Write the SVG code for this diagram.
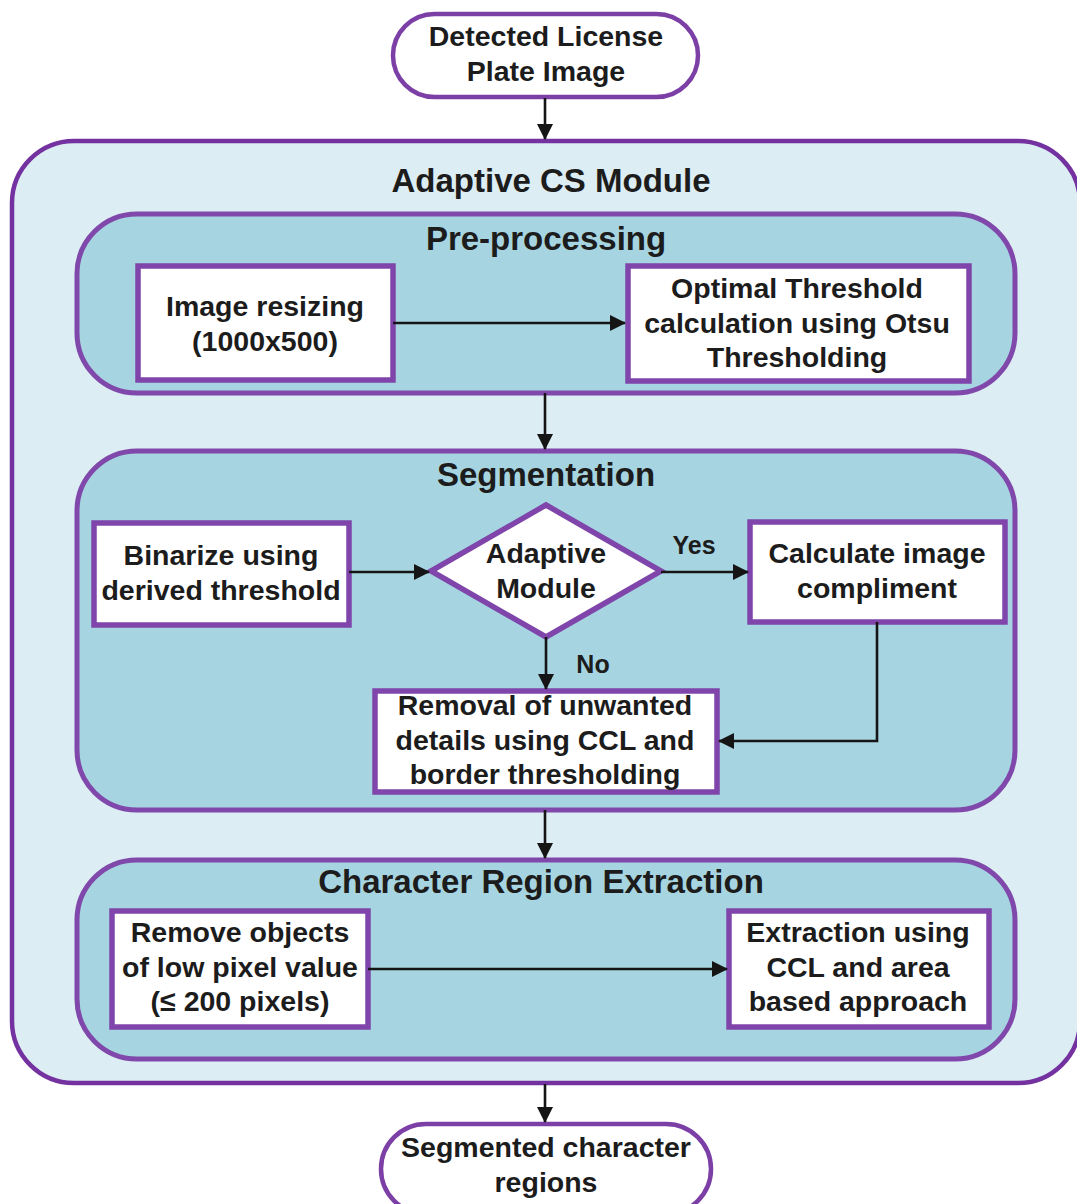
<svg xmlns="http://www.w3.org/2000/svg" width="1077" height="1204" viewBox="0 0 1077 1204">
  <defs>
    <style>
      .term { fill: #ffffff; stroke: #7b3fa6; stroke-width: 4.5; }
      .outer { fill: #dcedf3; stroke: #7432a0; stroke-width: 4.5; }
      .panel { fill: #a6d5e1; stroke: #8048ab; stroke-width: 5; }
      .box { fill: #ffffff; stroke: #7f45aa; stroke-width: 5.5; }
      .t { font-family: "Liberation Sans", Arial, sans-serif; font-weight: bold; fill: #1c1c1c; text-anchor: middle; }
      .tb { font-size: 28.5px; }
      .th { font-size: 33px; }
      .tl { font-size: 25px; }
      .conn { fill: none; stroke: #151515; stroke-width: 2.6; }
    </style>
    <marker id="arrow" viewBox="0 0 16 16" refX="15" refY="8" markerWidth="16" markerHeight="16" markerUnits="userSpaceOnUse" orient="auto">
      <path d="M0,0 L16,8 L0,16 Z" fill="#151515"/>
    </marker>
  </defs>

  <rect width="1077" height="1204" fill="#ffffff"/>

  <!-- outer module container -->
  <g id="adaptive-cs-module">
    <rect class="outer" x="12" y="141" width="1068" height="942" rx="62" ry="62"/>
    <text class="t th" x="551" y="192">Adaptive CS Module</text>
  </g>

  <!-- stage panels -->
  <g id="pre-processing">
    <rect class="panel" x="77" y="214" width="938" height="179" rx="60" ry="60"/>
    <text class="t th" x="546" y="250">Pre-processing</text>
  </g>
  <g id="segmentation">
    <rect class="panel" x="77" y="451" width="938" height="359" rx="60" ry="60"/>
    <text class="t th" x="546" y="486">Segmentation</text>
  </g>
  <g id="character-region-extraction">
    <rect class="panel" x="77" y="860" width="938" height="199" rx="60" ry="60"/>
    <text class="t th" x="541" y="893">Character Region Extraction</text>
  </g>

  <!-- terminators -->
  <g id="input-image">
    <rect class="term" x="393" y="14" width="305" height="83" rx="41.5" ry="41.5"/>
    <text class="t tb" x="546" y="46">Detected License</text>
    <text class="t tb" x="546" y="81">Plate Image</text>
  </g>
  <g id="output-regions">
    <rect class="term" x="381" y="1124" width="330" height="90" rx="45" ry="45"/>
    <text class="t tb" x="546" y="1157">Segmented character</text>
    <text class="t tb" x="546" y="1192">regions</text>
  </g>

  <!-- process steps -->
  <g id="image-resizing">
    <rect class="box" x="138" y="266" width="255" height="114"/>
    <text class="t tb" x="265" y="316">Image resizing</text>
    <text class="t tb" x="265" y="351">(1000x500)</text>
  </g>
  <g id="otsu-threshold">
    <rect class="box" x="628" y="266" width="341" height="115"/>
    <text class="t tb" x="797" y="298">Optimal Threshold</text>
    <text class="t tb" x="797" y="333">calculation using Otsu</text>
    <text class="t tb" x="797" y="367">Thresholding</text>
  </g>
  <g id="binarize">
    <rect class="box" x="94" y="523" width="255" height="102"/>
    <text class="t tb" x="221" y="565">Binarize using</text>
    <text class="t tb" x="221" y="600">derived threshold</text>
  </g>
  <g id="adaptive-module">
    <polygon class="box" points="546,505 661,571 546,637 431,571"/>
    <text class="t tb" x="546" y="563">Adaptive</text>
    <text class="t tb" x="546" y="598">Module</text>
  </g>
  <g id="image-complement">
    <rect class="box" x="750" y="522" width="255" height="100"/>
    <text class="t tb" x="877" y="563">Calculate image</text>
    <text class="t tb" x="877" y="598">compliment</text>
  </g>
  <g id="ccl-removal">
    <rect class="box" x="375" y="691" width="342" height="101"/>
    <text class="t tb" x="545" y="715">Removal of unwanted</text>
    <text class="t tb" x="545" y="750">details using CCL and</text>
    <text class="t tb" x="545" y="784">border thresholding</text>
  </g>
  <g id="remove-small-objects">
    <rect class="box" x="112" y="911" width="256" height="116"/>
    <text class="t tb" x="240" y="942">Remove objects</text>
    <text class="t tb" x="240" y="977">of low pixel value</text>
    <text class="t tb" x="240" y="1011">(≤ 200 pixels)</text>
  </g>
  <g id="ccl-area-extraction">
    <rect class="box" x="729" y="911" width="260" height="116"/>
    <text class="t tb" x="858" y="942">Extraction using</text>
    <text class="t tb" x="858" y="977">CCL and area</text>
    <text class="t tb" x="858" y="1011">based approach</text>
  </g>

  <!-- connectors -->
  <g id="connectors">
    <line class="conn" x1="545" y1="98" x2="545" y2="139" marker-end="url(#arrow)"/>
    <line class="conn" x1="393" y1="323" x2="625" y2="323" marker-end="url(#arrow)"/>
    <line class="conn" x1="545" y1="393" x2="545" y2="449" marker-end="url(#arrow)"/>
    <line class="conn" x1="349" y1="572" x2="429" y2="572" marker-end="url(#arrow)"/>
    <line class="conn" x1="661" y1="572" x2="748" y2="572" marker-end="url(#arrow)"/>
    <line class="conn" x1="546" y1="637" x2="546" y2="689" marker-end="url(#arrow)"/>
    <polyline class="conn" points="877,622 877,741 719,741" marker-end="url(#arrow)"/>
    <line class="conn" x1="545" y1="810" x2="545" y2="858" marker-end="url(#arrow)"/>
    <line class="conn" x1="368" y1="969" x2="727" y2="969" marker-end="url(#arrow)"/>
    <line class="conn" x1="545" y1="1084" x2="545" y2="1122" marker-end="url(#arrow)"/>
    <text class="t tl" x="694" y="554">Yes</text>
    <text class="t tl" x="593" y="673">No</text>
  </g>
</svg>
